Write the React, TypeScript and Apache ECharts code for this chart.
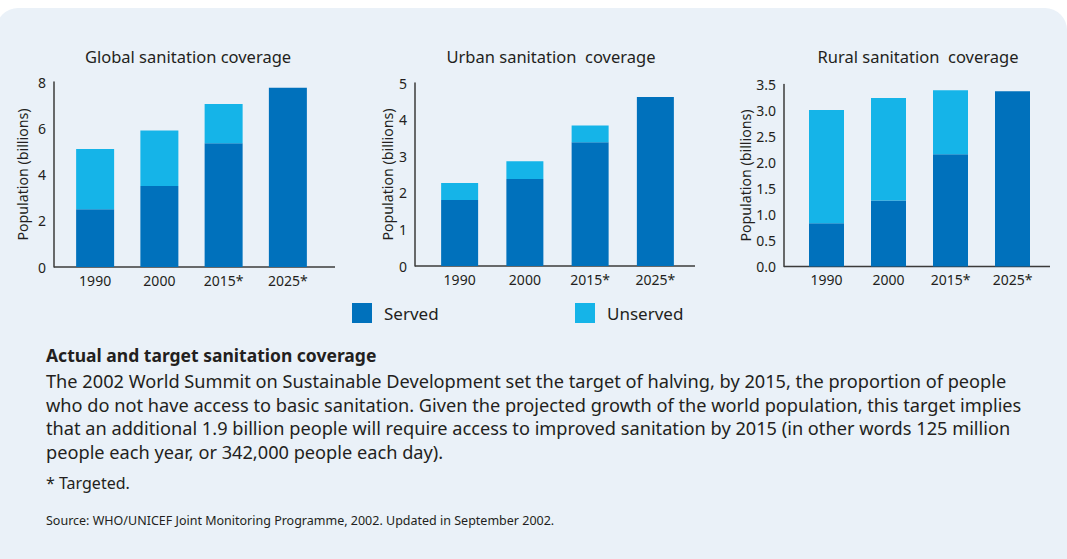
import React, { useEffect, useRef } from "react";
import * as echarts from "echarts";

const years = ["1990", "2000", "2015*", "2025*"];
const globalServed = [2.5, 3.5, 5.35, 7.75];
const globalUnserved = [2.6, 2.4, 1.7, 0];
const urbanServed = [1.8, 2.38, 3.38, 4.62];
const urbanUnserved = [0.47, 0.48, 0.46, 0];
const ruralServed = [0.83, 1.27, 2.16, 3.37];
const ruralUnserved = [2.18, 1.97, 1.23, 0];

const chartTitles = ["Global sanitation coverage", "Urban sanitation  coverage", "Rural sanitation  coverage"];
const yName = "Population (billions)";
const legendNames = ["Served", "Unserved"];

const heading = "Actual and target sanitation coverage";
const paragraph = [
  "The 2002 World Summit on Sustainable Development set the target of halving, by 2015, the proportion of people",
  "who do not have access to basic sanitation. Given the projected growth of the world population, this target implies",
  "that an additional 1.9 billion people will require access to improved sanitation by 2015 (in other words 125 million",
  "people each year, or 342,000 people each day).",
];
const footnote = "* Targeted.";
const source = "Source: WHO/UNICEF Joint Monitoring Programme, 2002. Updated in September 2002.";

const FONT = "'Noto Sans', Lato, sans-serif";
const SERVED = "#0071bc";
const UNSERVED = "#15b4e8";
const TEXT = "#231f20";
const AXIS = "#3b3b3b";

export default function App() {
  const ref = useRef<HTMLDivElement>(null);
  useEffect(() => {
    if (!ref.current) return;
    const chart = echarts.init(ref.current, null, { renderer: "svg" });

    const grids = [
      { left: 63, width: 257, top: 82, height: 185 },
      { left: 427, width: 261, top: 83, height: 183 },
      { left: 795.5, width: 248, top: 84.5, height: 182 },
    ];
    const yCfg = [
      { max: 8, interval: 2, offset: 9, nameGap: 25, fmt: (v: number) => String(v) },
      { max: 5, interval: 1, offset: 12, nameGap: 21, fmt: (v: number) => String(v) },
      { max: 3.5, interval: 0.5, offset: 11.5, nameGap: 32, fmt: (v: number) => v.toFixed(1) },
    ];
    const served = [globalServed, urbanServed, ruralServed];
    const unserved = [globalUnserved, urbanUnserved, ruralUnserved];
    const barW = [38, 37, 35];

    const xAxes = grids.map((_, i) => ({
      type: "category",
      gridIndex: i,
      data: years,
      axisLine: { show: false },
      axisTick: { show: false },
      axisLabel: { color: TEXT, fontSize: 14, fontFamily: FONT, margin: 6 },
    }));
    const yAxes = grids.map((_, i) => ({
      type: "value",
      gridIndex: i,
      min: 0,
      max: yCfg[i].max,
      interval: yCfg[i].interval,
      offset: yCfg[i].offset,
      name: yName,
      nameLocation: "middle",
      nameGap: yCfg[i].nameGap,
      nameTextStyle: { color: TEXT, fontSize: 14.2, fontFamily: FONT },
      axisLine: { show: true, lineStyle: { color: AXIS, width: 1.5 } },
      axisTick: { show: false },
      splitLine: { show: false },
      axisLabel: { color: TEXT, fontSize: 14, fontFamily: FONT, margin: 8, formatter: yCfg[i].fmt },
    }));
    const series: any[] = [];
    grids.forEach((_, i) => {
      series.push({
        type: "bar",
        name: legendNames[0],
        xAxisIndex: i,
        yAxisIndex: i,
        stack: "s" + i,
        barWidth: barW[i],
        itemStyle: { color: SERVED },
        data: served[i],
      });
      series.push({
        type: "bar",
        name: legendNames[1],
        xAxisIndex: i,
        yAxisIndex: i,
        stack: "s" + i,
        barWidth: barW[i],
        itemStyle: { color: UNSERVED },
        data: unserved[i],
      });
    });

    const xLines = [
      { x1: 54, x2: 335, y: 267 },
      { x1: 415, x2: 695, y: 266 },
      { x1: 784, x2: 1050, y: 266.5 },
    ];
    const titleX = [188, 551, 918];

    const graphic: any[] = [
      {
        type: "rect",
        z: -10,
        silent: true,
        shape: { x: -4, y: 8, width: 1071, height: 600, r: 22 },
        style: { fill: "#eaf1f8" },
      },
      ...xLines.map((l) => ({
        type: "line",
        silent: true,
        shape: { x1: l.x1, y1: l.y, x2: l.x2, y2: l.y },
        style: { stroke: AXIS, lineWidth: 1.5 },
      })),
      ...chartTitles.map((t, i) => ({
        type: "text",
        x: titleX[i],
        y: 56,
        style: { text: t, font: `16.5px ${FONT}`, fill: TEXT, textAlign: "center", textVerticalAlign: "middle" },
      })),
      {
        type: "text",
        x: 46,
        y: 355,
        style: { text: heading, font: `bold 17.5px ${FONT}`, fill: TEXT, textVerticalAlign: "middle" },
      },
      ...paragraph.map((p, i) => ({
        type: "text",
        x: 46,
        y: 381 + i * 23.7,
        style: { text: p, font: `18.2px ${FONT}`, fill: TEXT, textVerticalAlign: "middle" },
      })),
      {
        type: "text",
        x: 46,
        y: 483,
        style: { text: footnote, font: `16px ${FONT}`, fill: TEXT, textVerticalAlign: "middle" },
      },
      {
        type: "text",
        x: 46,
        y: 520,
        style: { text: source, font: `12.5px ${FONT}`, fill: TEXT, textVerticalAlign: "middle" },
      },
    ];

    chart.setOption({
      animation: false,
      backgroundColor: "#ffffff",
      grid: grids,
      xAxis: xAxes,
      yAxis: yAxes,
      series,
      legend: [
        {
          data: [legendNames[0]],
          left: 352,
          top: 303,
          padding: 0,
          icon: "rect",
          itemWidth: 20,
          itemHeight: 20,
          textStyle: { color: TEXT, fontSize: 17, fontFamily: FONT, padding: [0, 0, 0, 7] },
        },
        {
          data: [legendNames[1]],
          left: 575,
          top: 303,
          padding: 0,
          icon: "rect",
          itemWidth: 20,
          itemHeight: 20,
          textStyle: { color: TEXT, fontSize: 17, fontFamily: FONT, padding: [0, 0, 0, 7] },
        },
      ],
      graphic,
    });
    return () => chart.dispose();
  }, []);
  return <div ref={ref} style={{ position: "fixed", left: 0, top: 0, width: 1067, height: 559 }} />;
}
